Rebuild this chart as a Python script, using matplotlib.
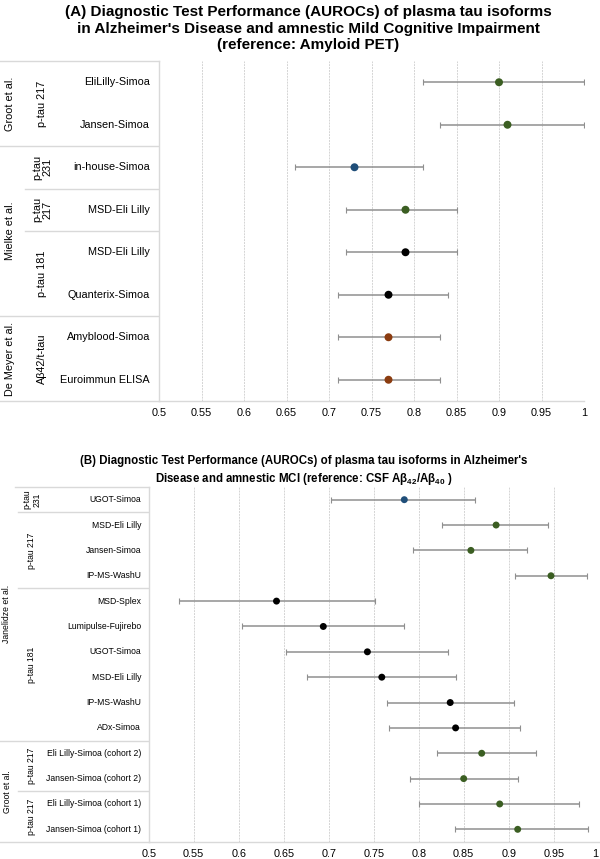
import matplotlib
matplotlib.use('Agg')
import matplotlib.pyplot as plt
import numpy as np

plt.rcParams['font.family'] = ['Liberation Sans', 'DejaVu Sans']
plt.rcParams['mathtext.fontset'] = 'custom'
plt.rcParams['mathtext.rm'] = 'Liberation Sans:bold'
plt.rcParams['mathtext.it'] = 'Liberation Sans:bold'
plt.rcParams['mathtext.bf'] = 'Liberation Sans:bold'
plt.rcParams['mathtext.default'] = 'rm'

GREEN = '#3b5e22'
BLUE = '#1f4e79'
BLACK = '#000000'
BROWN = '#8b3c10'

# Panel A: reference amyloid PET
a_labels = ["EliLilly-Simoa", "Jansen-Simoa", "in-house-Simoa", "MSD-Eli Lilly",
            "MSD-Eli Lilly", "Quanterix-Simoa", "Amyblood-Simoa", "Euroimmun ELISA"]
a_auc = [0.90, 0.91, 0.73, 0.79, 0.79, 0.77, 0.77, 0.77]
a_low = [0.81, 0.83, 0.66, 0.72, 0.72, 0.71, 0.71, 0.71]
a_high = [1.00, 1.00, 0.81, 0.85, 0.85, 0.84, 0.83, 0.83]
a_colors = [GREEN, GREEN, BLUE, GREEN, BLACK, BLACK, BROWN, BROWN]
a_studies = [("Groot et al.", 0, 1), ("Mielke et al.", 2, 5), ("De Meyer et al.", 6, 7)]
a_groups = [("p-tau 217", 0, 1), ("p-tau\n231", 2, 2), ("p-tau\n217", 3, 3),
            ("p-tau 181", 4, 5), ("Aβ42/t-tau", 6, 7)]

# Panel B: reference CSF Ab42/Ab40
b_labels = ["UGOT-Simoa", "MSD-Eli Lilly", "Jansen-Simoa", "IP-MS-WashU", "MSD-Splex",
            "Lumipulse-Fujirebo", "UGOT-Simoa", "MSD-Eli Lilly", "IP-MS-WashU", "ADx-Simoa",
            "Eli Lilly-Simoa (cohort 2)", "Jansen-Simoa (cohort 2)",
            "Eli Lilly-Simoa (cohort 1)", "Jansen-Simoa (cohort 1)"]
b_auc = [0.784, 0.886, 0.858, 0.947, 0.642, 0.694, 0.743, 0.759, 0.835, 0.841,
         0.870, 0.850, 0.890, 0.910]
b_low = [0.703, 0.826, 0.794, 0.907, 0.534, 0.604, 0.652, 0.676, 0.765, 0.767,
         0.820, 0.790, 0.800, 0.840]
b_high = [0.863, 0.944, 0.920, 0.987, 0.751, 0.784, 0.833, 0.841, 0.906, 0.913,
          0.930, 0.910, 0.978, 0.988]
b_colors = [BLUE, GREEN, GREEN, GREEN] + [BLACK] * 6 + [GREEN] * 4
b_studies = [("Janelidze et al.", 0, 9), ("Groot et al.", 10, 13)]
b_groups = [("p-tau\n231", 0, 0), ("p-tau 217", 1, 3), ("p-tau 181", 4, 9),
            ("p-tau 217", 10, 11), ("p-tau 217", 12, 13)]

ticks = [0.5, 0.55, 0.6, 0.65, 0.7, 0.75, 0.8, 0.85, 0.9, 0.95, 1.0]
tick_labels = ["0.5", "0.55", "0.6", "0.65", "0.7", "0.75", "0.8", "0.85", "0.9", "0.95", "1"]

W, H = 600, 859
fig = plt.figure(figsize=(W / 100, H / 100), dpi=100)
LINE = '#d9d9d9'


def px_axes(left, top, right, bottom):
    return fig.add_axes([left / W, 1 - bottom / H, (right - left) / W, (bottom - top) / H])


def draw_panel(box, labels, auc, low, high, colors, studies, groups,
               fs, ms, x_label, x_study, x_group, x_sub, x_top):
    left, top, right, bottom = box
    n = len(labels)
    y = np.arange(n)
    auc = np.array(auc)
    ax = px_axes(left, top, right, bottom)
    ax.errorbar(auc, y, xerr=[auc - np.array(low), np.array(high) - auc], fmt='none',
                ecolor='#8f8f8f', elinewidth=1.1, capsize=2, capthick=0.8, zorder=2)
    ax.scatter(auc, y, c=colors, s=ms, zorder=3, linewidths=0)
    ax.set_xlim(0.5, 1.0)
    ax.set_ylim(n - 0.5, -0.5)
    ax.set_xticks(ticks)
    ax.set_xticklabels(tick_labels, fontsize=7.8)
    ax.set_yticks([])
    ax.tick_params(axis='x', length=0, pad=5)
    ax.grid(axis='x', color='#d4d4d4', linestyle=(0, (2, 1)), linewidth=0.7)
    ax.set_axisbelow(True)
    for s in ['top', 'right', 'left']:
        ax.spines[s].set_visible(False)
    ax.spines['bottom'].set_color(LINE)
    ax.spines['bottom'].set_linewidth(1)
    ax.patch.set_alpha(0)

    lab = px_axes(0, top, left, bottom)
    lab.set_xlim(0, left)
    lab.set_ylim(n - 0.5, -0.5)
    lab.axis('off')
    lab.plot([x_top, left], [-0.5, -0.5], color=LINE, lw=1, clip_on=False)
    lab.plot([0, left], [n - 0.5, n - 0.5], color=LINE, lw=1, clip_on=False)
    lab.plot([left, left], [-0.5, n - 0.5], color=LINE, lw=1, clip_on=False)
    starts = [s for _, s, _ in studies]
    for name, s, e in studies:
        if s > 0:
            lab.plot([0, left], [s - 0.5, s - 0.5], color=LINE, lw=1)
        lab.text(x_study, (s + e) / 2, name, rotation=90, ha='center', va='center', fontsize=fs)
    for name, s, e in groups:
        if s > 0 and s not in starts:
            lab.plot([x_sub, left], [s - 0.5, s - 0.5], color=LINE, lw=1)
        lab.text(x_group, (s + e) / 2, name, rotation=90, ha='center', va='center',
                 fontsize=fs, linespacing=1.05, multialignment='center')
    for i, t in enumerate(labels):
        lab.text(x_label, i, t, ha='right', va='center', fontsize=fs)
    return ax


draw_panel((159, 61, 584, 401), a_labels, a_auc, a_low, a_high, a_colors, a_studies, a_groups,
           fs=7.8, ms=33, x_label=150, x_study=10, x_group=42, x_sub=25, x_top=0)
axb = draw_panel((148.7, 487, 598.7, 842), b_labels, b_auc, b_low, b_high, b_colors, b_studies,
                 b_groups, fs=6.2, ms=25, x_label=141, x_study=7, x_group=32, x_sub=18, x_top=15)
axb.get_xticklabels()[-1].set_horizontalalignment('right')

fig.text(308 / W, 1 - 28.5 / H,
         "(A) Diagnostic Test Performance (AUROCs) of plasma tau isoforms\n"
         "in Alzheimer's Disease and amnestic Mild Cognitive Impairment\n"
         "(reference: Amyloid PET)",
         ha='center', va='center', fontsize=11, fontweight='bold', linespacing=1.27)
fig.text(304 / W, 1 - 471 / H,
         "(B) Diagnostic Test Performance (AUROCs) of plasma tau isoforms in Alzheimer's\n"
         r"Disease and amnestic MCI (reference: CSF A$\beta_{42}$/A$\beta_{40}$ )",
         ha='center', va='center', fontsize=8.3, fontweight='bold', linespacing=1.3)

fig.savefig('out.png', dpi=100)
